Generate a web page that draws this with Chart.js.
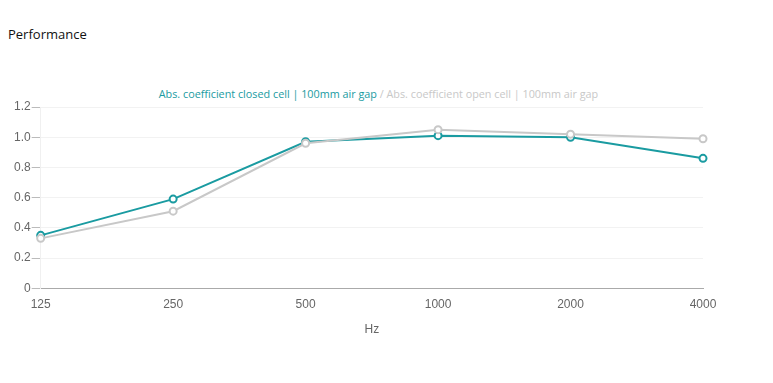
<!DOCTYPE html>
<html>
<head>
<meta charset="utf-8">
<script src="https://cdn.jsdelivr.net/npm/chart.js@4.4.1/dist/chart.umd.min.js"></script>
<style>
	body{ margin:0; background:#fff; width:773px; height:383px; overflow:hidden; position:relative; }
	#titulo{ position:absolute; left:8px; top:25px; font-family:"Open Sans",sans-serif; font-size:13px; color:#111; }
	#leyenda{ position:absolute; left:0; width:757px; top:86px; text-align:center; font-family:"Open Sans",sans-serif; font-size:10.8px; }
	#caja{ position:absolute; left:0; top:95px; width:773px; height:242px; }
</style>
</head>
<body>
<div id="titulo">Performance</div>
<div id="leyenda"><span style="color:#1a9ba1">Abs. coefficient closed cell | 100mm air gap</span> <span style="color:#c8c8c8">/ Abs. coefficient open cell | 100mm air gap</span></div>
<div id="caja"><canvas id="grafica"></canvas></div>
<script>
	// Datos
	const frecuencias = ['125', '250', '500', '1000', '2000', '4000'];
	const celdaCerrada = [0.35, 0.59, 0.97, 1.01, 1.00, 0.86];
	const celdaAbierta = [0.33, 0.51, 0.96, 1.05, 1.02, 0.99];
	const etiquetas = ['Abs. coefficient closed cell | 100mm air gap', 'Abs. coefficient open cell | 100mm air gap'];

	const colorCerrada = '#1a9ba1';
	const colorAbierta = '#c8c8c8';

	var ctx = document.getElementById('grafica').getContext('2d');
	var grafica = new Chart(ctx, {
		type: 'line',
		data: {
			labels: frecuencias,
			datasets: [
				{
					label: etiquetas[1],
					data: celdaAbierta,
					borderColor: colorAbierta,
					backgroundColor: '#fff',
					borderWidth: 2,
					pointRadius: 3.5,
					pointBorderWidth: 2,
					tension: 0
				},
				{
					label: etiquetas[0],
					data: celdaCerrada,
					borderColor: colorCerrada,
					backgroundColor: '#fff',
					borderWidth: 2,
					pointRadius: 3.5,
					pointBorderWidth: 2,
					tension: 0
				}
			]
		},
		options: {
			responsive: true,
			maintainAspectRatio: false,
			animation: false,
			layout: { padding: { left: 13, right: 70, top: 12, bottom: 0 } },
			plugins: { legend: { display: false }, tooltip: { enabled: false } },
			scales: {
				x: {
					offset: false,
					grid: { display: false, drawTicks: false },
					border: { color: '#aaa' },
					ticks: { color: '#666', font: { family: 'Liberation Sans', size: 12 }, padding: 9, maxRotation: 0 },
					title: { display: true, text: 'Hz', color: '#666', font: { family: 'Liberation Sans', size: 12 }, padding: { top: 2, bottom: 0 } }
				},
				y: {
					min: 0,
					max: 1.2,
					grid: { color: '#f2f2f2', tickColor: '#bbb', tickLength: 9 },
					border: { color: '#f0f0f0' },
					ticks: {
						stepSize: 0.2,
						color: '#666',
						font: { family: 'Liberation Sans', size: 12 },
						padding: 1,
						callback: function(v){ return v === 0 ? '0' : v.toFixed(1); }
					}
				}
			}
		}
	});
</script>
</body>
</html>
